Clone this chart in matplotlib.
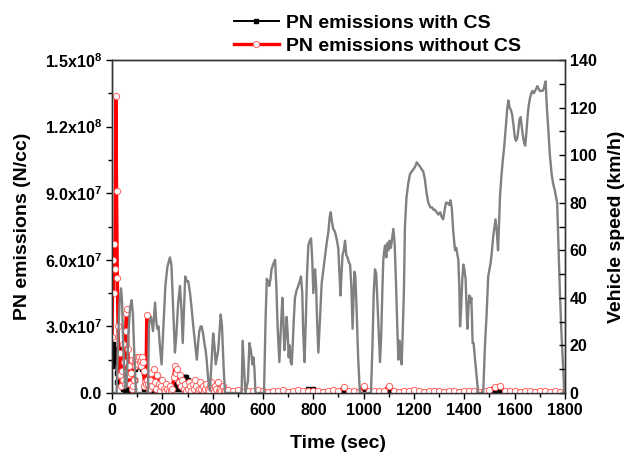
import numpy as np
import matplotlib
matplotlib.use("Agg")
import matplotlib.pyplot as plt
from matplotlib.ticker import MultipleLocator, FixedLocator

plt.rcParams["font.family"] = ["Liberation Sans", "DejaVu Sans"]
plt.rcParams["font.weight"] = "bold"
plt.rcParams["mathtext.fontset"] = "custom"
plt.rcParams["mathtext.rm"] = "Liberation Sans:bold"
plt.rcParams["mathtext.bf"] = "Liberation Sans:bold"

# ----- PN sampling times (sec) -----
t_pn = np.concatenate([np.arange(0, 151, 3), np.arange(155, 451, 5), np.arange(460, 1801, 20)])

# PN emissions, in units of 1e6 N/cc
pn_without_cs = [
    # 0..150 s, every 3 s
    25, 60, 45, 67, 56, 134, 91, 52, 30, 8, 18, 8, 3, 10, 22, 6, 14, 4, 28, 36,
    38, 20, 8, 12, 4, 9, 2, 15, 3, 6, 12, 15, 14, 16, 15, 13, 16, 14, 15, 12,
    16, 14, 10, 3, 5, 4, 35, 6, 4, 2, 6,
    # 155..450 s, every 5 s
    9, 3, 11, 5, 2, 8, 4, 1, 3, 6, 2, 1, 4, 2, 1, 3, 1, 2, 7, 12,
    9, 11, 5, 8, 3, 6, 2, 4, 1, 2, 5, 3, 1, 4, 2, 6, 3, 1, 2, 5,
    2, 3, 1, 2, 4, 2, 1, 3, 5, 2, 1, 3, 2, 5, 1, 2, 1, 3, 1, 1,
    # 460..1800 s, every 20 s
    1.5, 0.8, 1.2, 0.6, 1.0, 0.7, 1.3, 0.9, 0.5, 1.1, 0.8, 1.4, 0.6, 0.9, 1.2, 0.7, 1.0,
    0.8, 1.1, 0.6, 0.9, 1.3, 0.7, 2.5, 0.8, 1.0, 0.6, 3.0, 0.9, 0.7, 1.1, 0.8, 3.2, 1.0,
    0.6, 0.9, 0.7, 1.2, 0.8, 0.6, 1.0, 0.7, 0.9, 0.6, 1.1, 0.8, 0.6, 0.9, 0.7, 1.0, 0.6,
    0.8, 1.5, 2.8, 3.2, 1.0, 0.7, 0.9, 0.6, 0.8, 0.7, 0.6, 0.9, 0.7, 0.6, 0.8, 0.5, 0.6,
]

pn_with_cs = [
    # 0..150 s
    12, 22, 15, 20, 14, 18, 9, 5, 17, 20, 14, 8, 5, 3, 7, 2, 4, 1, 6, 9,
    4, 2, 7, 3, 1, 2, 1, 3, 1, 2, 6, 11, 12, 12, 12, 12, 12, 12, 12, 12,
    11, 12, 9, 2, 1, 3, 5, 2, 1, 1, 3,
    # 155..450 s
    4, 2, 1, 3, 8, 8, 6, 2, 1, 1, 2, 1, 1, 2, 1, 1, 1, 2, 3, 2,
    4, 3, 2, 4, 2, 3, 7, 7, 7, 6, 2, 1, 1, 2, 1, 5, 2, 1, 1, 1,
    1, 1, 1, 1, 1, 1, 0.5, 1, 1, 0.5, 0.5, 1, 0.5, 0.5, 0.5, 0.5, 0.5, 0.5, 0.5, 0.5,
    # 460..1800 s
    0.4, 0.3, 0.5, 0.3, 0.4, 0.3, 0.4, 0.3, 0.4, 0.3, 0.4, 0.3, 0.4, 0.3, 0.4, 0.3, 1.8,
    1.8, 0.4, 0.3, 0.4, 0.3, 0.4, 1.2, 0.3, 0.4, 0.3, 0.4, 0.3, 0.4, 0.3, 0.4, 0.3, 0.4,
    0.3, 0.4, 0.3, 0.4, 0.3, 0.4, 0.3, 0.4, 0.3, 0.4, 0.3, 0.4, 0.3, 0.4, 0.3, 0.4, 0.3,
    0.4, 0.3, 0.4, 1.5, 0.3, 0.4, 0.3, 0.4, 0.3, 0.4, 0.3, 0.4, 0.3, 0.4, 0.3, 0.4, 0.3,
]

# ----- Vehicle speed trace (sec, km/h) -----
t_speed = [
    0, 18, 25, 30, 36, 40, 45, 52, 58, 65, 72, 78, 83, 88, 95, 143, 147, 155, 163, 171,
    176, 180, 185, 190, 197, 205, 212, 220, 230, 236, 243, 250, 256, 263, 270, 276, 281, 286, 291, 297,
    303, 310, 316, 323, 330, 337, 343, 347, 352, 356, 362, 367, 372, 376, 382, 389, 395, 402, 407, 412,
    417, 422, 432, 437, 443, 449, 515, 519, 524, 530, 540, 546, 552, 558, 562, 566, 570, 604, 610, 615,
    620, 625, 630, 634, 640, 648, 653, 658, 665, 670, 677, 681, 685, 690, 694, 698, 702, 706, 710, 714,
    718, 722, 727, 733, 740, 746, 751, 756, 760, 765, 770, 775, 780, 786, 791, 796, 800, 804, 807, 811,
    815, 820, 826, 833, 840, 847, 853, 860, 865, 869, 874, 879, 885, 890, 894, 899, 904, 908, 912, 916,
    921, 926, 931, 936, 941, 946, 951, 956, 960, 963, 967, 972, 978, 985, 1029, 1035, 1040, 1045, 1050, 1055,
    1060, 1065, 1070, 1074, 1078, 1082, 1085, 1090, 1094, 1098, 1103, 1108, 1113, 1118, 1123, 1128, 1133, 1138, 1142, 1146,
    1151, 1155, 1160, 1164, 1170, 1177, 1184, 1190, 1197, 1204, 1211, 1218, 1225, 1231, 1237, 1243, 1250, 1257, 1265, 1272,
    1278, 1283, 1290, 1297, 1304, 1310, 1316, 1322, 1327, 1333, 1340, 1345, 1350, 1356, 1363, 1368, 1373, 1376, 1380, 1383,
    1387, 1392, 1396, 1400, 1405, 1412, 1416, 1420, 1424, 1428, 1433, 1437, 1441, 1448, 1455, 1475, 1482, 1488, 1495, 1505,
    1510, 1515, 1520, 1524, 1529, 1534, 1538, 1542, 1548, 1553, 1558, 1565, 1570, 1575, 1580, 1585, 1590, 1595, 1600, 1605,
    1610, 1614, 1619, 1624, 1628, 1633, 1638, 1642, 1647, 1652, 1656, 1661, 1666, 1671, 1676, 1681, 1686, 1690, 1695, 1700,
    1706, 1711, 1716, 1720, 1723, 1728, 1733, 1740, 1747, 1753, 1760, 1765, 1769, 1774, 1780, 1786, 1793, 1797,
]
speed = [
    0, 0, 25, 38, 44, 38, 18, 2, 3, 25, 36, 39, 33, 18, 0, 0, 29, 32, 26, 38,
    30, 27, 28, 20, 12, 30, 45, 53, 57, 54, 35, 17, 25, 38, 45, 35, 21, 35, 49, 47,
    47, 42, 36, 28, 21, 14, 22, 26, 28, 28, 25, 21, 18, 14, 6, 1, 12, 25, 20, 12,
    15, 18, 33, 28, 12, 0, 0, 22, 12, 0, 5, 21, 18, 12, 15, 10, 0, 0, 30, 48,
    47, 45, 48, 52, 54, 56, 45, 28, 13, 25, 40, 30, 18, 25, 32, 25, 15, 20, 13, 12,
    20, 30, 40, 43, 45, 47, 49, 42, 25, 13, 30, 50, 62, 64, 65, 55, 42, 48, 52, 45,
    30, 17, 30, 46, 52, 58, 63, 68, 74, 76, 72, 69, 68, 66, 64, 61, 50, 41, 50, 58,
    60, 64, 58, 57, 55, 54, 45, 27, 40, 51, 49, 35, 15, 0, 0, 20, 42, 52, 50, 38,
    25, 13, 25, 42, 56, 60, 62, 57, 63, 60, 64, 61, 65, 69, 63, 48, 30, 14, 22, 18,
    12, 25, 43, 70, 82, 88, 92, 93, 94, 95, 97, 96, 95, 94, 93, 90, 84, 80, 78, 78,
    77, 77, 76, 75, 76, 74, 73, 77, 80, 80, 79, 81, 78, 68, 60, 61, 58, 56, 45, 28,
    35, 48, 54, 52, 48, 27, 35, 41, 38, 40, 21, 21, 16, 8, 0, 0, 20, 32, 49, 55,
    60, 66, 70, 73, 68, 60, 72, 83, 92, 98, 103, 112, 119, 123, 120, 119, 117, 113, 108, 106,
    107, 110, 115, 116, 112, 108, 105, 104, 110, 117, 121, 124, 126, 127, 126, 127, 128, 129, 128, 127,
    127, 127, 128, 130, 131, 120, 112, 100, 92, 88, 85, 82, 80, 62, 42, 25, 10, 0,
]

scale_pn = 1e6
ytick_vals = [0, 3e7, 6e7, 9e7, 1.2e8, 1.5e8]
ytick_labels = ["0.0", "3.0x10$^{7}$", "6.0x10$^{7}$", "9.0x10$^{7}$", "1.2x10$^{8}$", "1.5x10$^{8}$"]

fig = plt.figure(figsize=(6.3, 4.54), dpi=100)
ax = fig.add_axes([0.1778, 0.1344, 0.719, 0.7334])

ax.plot(t_pn, np.array(pn_with_cs) * scale_pn, color="black", lw=1.4,
        marker="s", ms=2.5, mfc="black", mec="black", label="PN emissions with CS", zorder=2)
ax.plot(t_pn, np.array(pn_without_cs) * scale_pn, color="red", lw=2.4,
        marker="o", ms=4.5, mfc="white", mec="#ff6060", mew=0.7,
        label="PN emissions without CS", zorder=3)

ax.set_xlim(0, 1800)
ax.set_ylim(0, 1.5e8)
ax.xaxis.set_major_locator(MultipleLocator(200))
ax.xaxis.set_minor_locator(MultipleLocator(100))
ax.yaxis.set_major_locator(FixedLocator(ytick_vals))
ax.yaxis.set_minor_locator(MultipleLocator(1.5e7))
ax.set_yticklabels(ytick_labels)
ax.tick_params(axis="both", which="both", direction="out", labelsize=11.5, width=1, top=False, right=False)
ax.tick_params(which="major", length=4)
ax.tick_params(which="minor", length=3)
ax.set_xlabel("Time (sec)", fontsize=14, fontweight="bold", labelpad=12)
ax.set_ylabel("PN emissions (N/cc)", fontsize=14, fontweight="bold", labelpad=10)

ax2 = ax.twinx()
ax2.plot(t_speed, speed, color="#808080", lw=1.7, zorder=1)
ax2.set_ylim(0, 140)
ax2.yaxis.set_major_locator(MultipleLocator(20))
ax2.yaxis.set_minor_locator(MultipleLocator(10))
ax2.tick_params(axis="y", which="both", direction="in", labelsize=11.5, width=1, length=4)
ax2.set_ylabel("Vehicle speed (km/h)", fontsize=14, fontweight="bold", labelpad=8)

for a in (ax, ax2):
    for s in a.spines.values():
        s.set_linewidth(1.0)
        s.set_color("#333333")
    for lab in a.get_xticklabels() + a.get_yticklabels():
        lab.set_fontweight("bold")

handles, labels = ax.get_legend_handles_labels()
fig.legend(handles, labels, loc="upper left", bbox_to_anchor=(0.353, 0.995), frameon=False,
           prop={"size": 14, "weight": "bold"}, handlelength=2.3, handletextpad=0.35,
           labelspacing=0.3, borderaxespad=0.2, numpoints=1)

fig.savefig("out.png", dpi=100, facecolor="white")
